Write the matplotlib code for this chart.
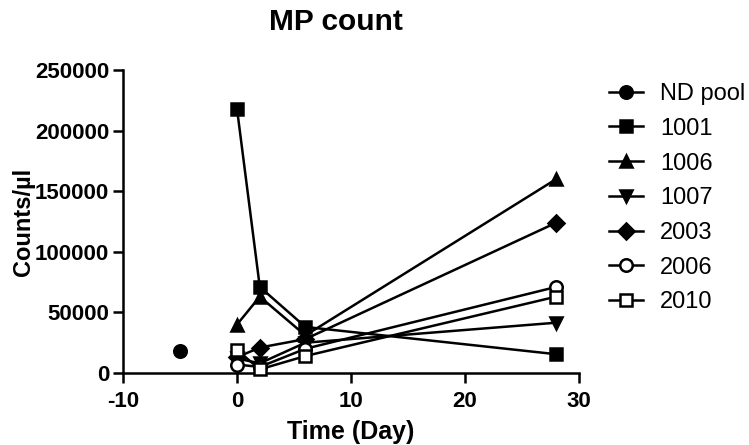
import matplotlib
matplotlib.use("Agg")
import matplotlib.pyplot as plt
from matplotlib.lines import Line2D

plt.rcParams['font.family'] = ['Liberation Sans', 'DejaVu Sans']

# ---- data ----
days = [0, 2, 6, 28]
nd_pool_day = [-5]
nd_pool = [18000]
series_names = ["1001", "1006", "1007", "2003", "2006", "2010"]
s1001 = [218000, 71000, 38000, 15500]
s1006 = [40000, 63000, 31000, 160000]
s1007 = [12000, 8000, 25000, 41500]
s2003 = [13000, 21000, 28000, 124000]
s2006 = [7000, 5000, 20000, 71000]
s2010 = [19000, 3000, 14000, 63000]
x_ticks = [-10, 0, 10, 20, 30]
y_ticks = [0, 50000, 100000, 150000, 200000, 250000]

fig = plt.figure(figsize=(7.49, 4.45), dpi=100)
ax = fig.add_axes([123/749, 1-373/445, (579-123)/749, (373-70)/445])

lw = 1.8
ms = 9
mew = 1.8
styles = [
    ("ND pool", nd_pool_day, nd_pool, 'o', 'black'),
    ("1001", days, s1001, 's', 'black'),
    ("1006", days, s1006, '^', 'black'),
    ("1007", days, s1007, 'v', 'black'),
    ("2003", days, s2003, 'D', 'black'),
    ("2006", days, s2006, 'o', 'white'),
    ("2010", days, s2010, 's', 'white'),
]
handles = []
for name, xs, ys, mk, fc in styles:
    msz = ms * (0.85 if mk == 'D' else 1.0)
    ax.plot(xs, ys, color='black', lw=lw, marker=mk, markersize=msz,
            markerfacecolor=fc, markeredgecolor='black', markeredgewidth=mew,
            clip_on=False, zorder=3)
    handles.append(Line2D([0], [0], color='black', lw=lw, marker=mk, markersize=msz,
                          markerfacecolor=fc, markeredgecolor='black',
                          markeredgewidth=mew, label=name))

ax.set_xlim(-10, 30)
ax.set_ylim(0, 250000)
ax.set_xticks(x_ticks)
ax.set_yticks(y_ticks)
ax.set_xticklabels([str(t) for t in x_ticks], fontsize=16, fontweight='bold')
ax.set_yticklabels([str(t) for t in y_ticks], fontsize=16, fontweight='bold')
for s in ['top', 'right']:
    ax.spines[s].set_visible(False)
for s in ['left', 'bottom']:
    ax.spines[s].set_linewidth(1.8)
ax.tick_params(axis='both', direction='out', length=7, width=1.8)
ax.tick_params(axis='x', pad=6)
ax.tick_params(axis='y', pad=3)

ax.set_xlabel("Time (Day)", fontsize=18, fontweight='bold', labelpad=6)
ax.set_ylabel("Counts/\u00b5l", fontsize=17, fontweight='bold', labelpad=0)
fig.text(336/749, 1-22/445, "MP count", fontsize=21.5, fontweight='bold',
         ha='center', va='center')

fig.legend(handles=handles, loc='upper left', bbox_to_anchor=(609/749, 1-83/445),
           frameon=False, fontsize=17, handlelength=1.45, handletextpad=0.7,
           labelspacing=0.54, borderpad=0, borderaxespad=0)

fig.savefig("out.png", dpi=100)
